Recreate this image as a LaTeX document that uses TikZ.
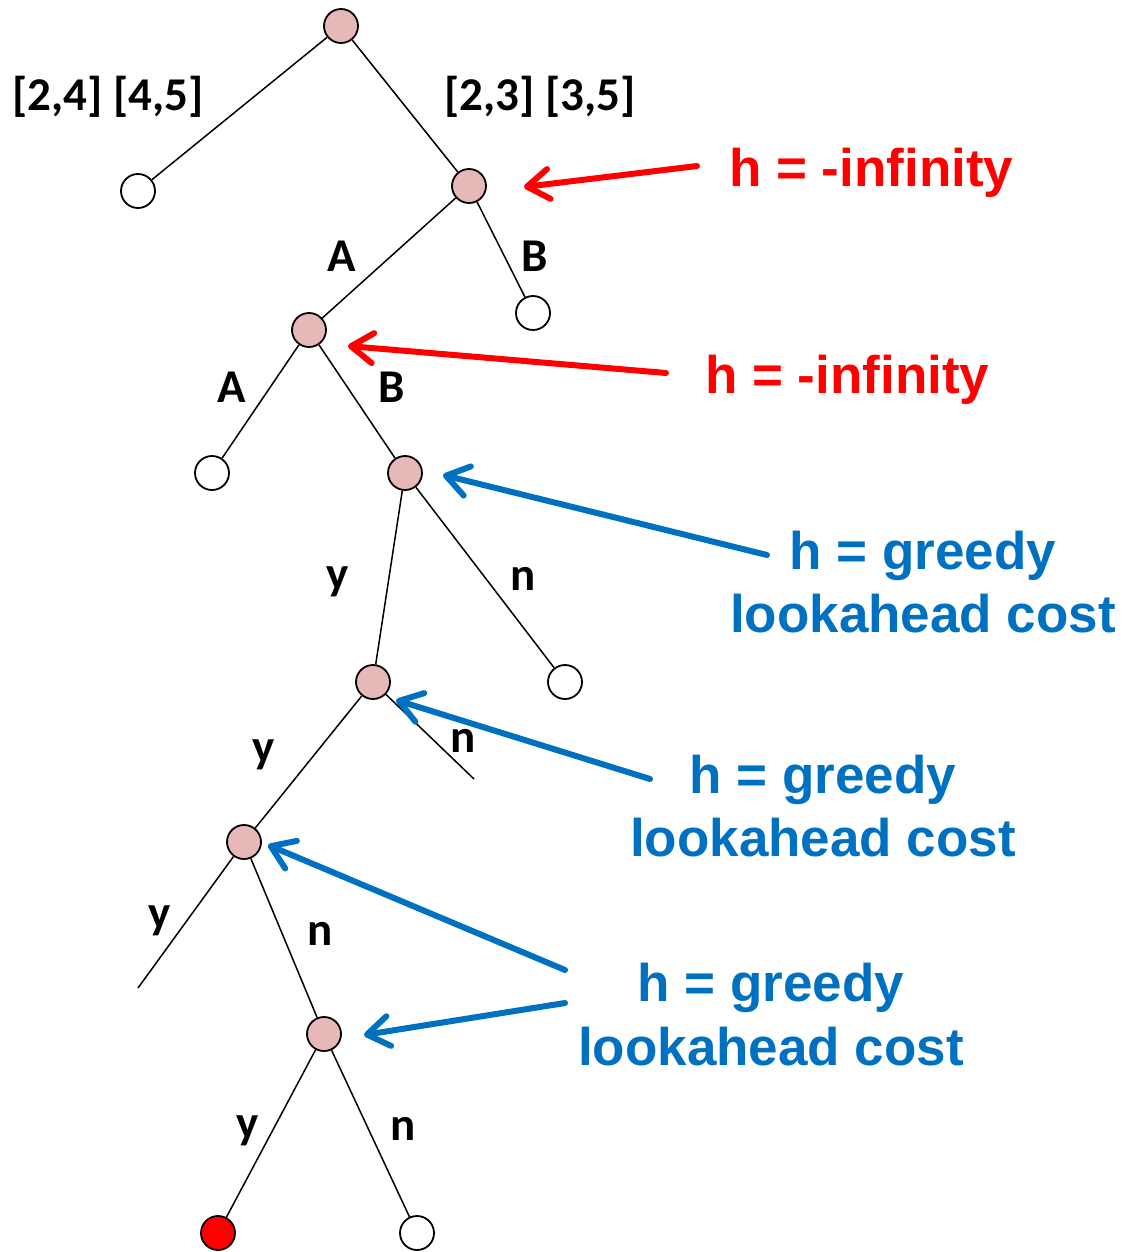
\documentclass[tikz,border=0pt]{standalone}
\usepackage{fontspec}
\setmainfont{Carlito}
\newfontfamily\arialb{Liberation Sans}[BoldFont={Liberation Sans Bold}]
\usetikzlibrary{arrows.meta}
\definecolor{nodepink}{HTML}{E6B9B8}
\definecolor{hred}{HTML}{FF0000}
\definecolor{hblue}{HTML}{0070C0}
\tikzset{
  tnode/.style={circle, draw=black, line width=1.8pt, minimum size=34pt, inner sep=0pt},
  pinknode/.style={tnode, fill=nodepink},
  whitenode/.style={tnode, fill=white},
  rednode/.style={tnode, fill=hred},
  edge/.style={line width=1.5pt, black},
  elabel/.style={font=\fontsize{47}{56}\selectfont\bfseries, anchor=base, inner sep=0pt},
  htext/.style={font=\arialb\fontsize{53}{63}\selectfont\bfseries, inner sep=0pt},
  harrow/.style={line width=6pt, line cap=round, -{Straight Barb[length=22pt,width=30pt,line cap=round,line join=round]}},
}
\begin{document}
\begin{tikzpicture}[x=1pt,y=-1pt]
\useasboundingbox (0,0) rectangle (1122,1252);
% tree nodes
\node[pinknode] (r) at (341,26) {};
\node[whitenode] (a1) at (138,191) {};
\node[pinknode] (a2) at (469,186) {};
\node[pinknode] (b1) at (309,330) {};
\node[whitenode] (b2) at (533,313) {};
\node[whitenode] (c1) at (212,473) {};
\node[pinknode] (c2) at (405,473) {};
\node[pinknode] (d1) at (373,682) {};
\node[whitenode] (d2) at (565,682) {};
\coordinate (dn) at (474,779);
\node[pinknode] (e1) at (244,842) {};
\coordinate (ey) at (138,988);
\node[pinknode] (f1) at (324,1034) {};
\node[rednode] (g1) at (218,1233) {};
\node[whitenode] (g2) at (417,1233) {};
% edges
\draw[edge] (r) -- (a1);
\draw[edge] (r) -- (a2);
\draw[edge] (a2) -- (b1);
\draw[edge] (a2) -- (b2);
\draw[edge] (b1) -- (c1);
\draw[edge] (b1) -- (c2);
\draw[edge] (c2) -- (d1);
\draw[edge] (c2) -- (d2);
\draw[edge] (d1) -- (e1);
\draw[edge] (d1) -- (dn);
\draw[edge] (e1) -- (ey);
\draw[edge] (e1) -- (f1);
\draw[edge] (f1) -- (g1);
\draw[edge] (f1) -- (g2);
% edge labels
\node[elabel] (l1) at (108,111) {[2,4] [4,5]};
\node[elabel] (l2) at (540,111) {[2,3] [3,5]};
\node[elabel] (l3) at (342,271) {A};
\node[elabel] (l4) at (535,271) {B};
\node[elabel] (l5) at (232,402) {A};
\node[elabel] (l6) at (392,402) {B};
\node[elabel] (l7) at (338,589) {y};
\node[elabel] (l8) at (523,590) {n};
\node[elabel] (l9) at (264,762) {y};
\node[elabel] (l10) at (463,752) {n};
\node[elabel] (l11) at (160,928) {y};
\node[elabel] (l12) at (320,945) {n};
\node[elabel] (l13) at (248,1138) {y};
\node[elabel] (l14) at (403,1140) {n};
% red annotations
\node[htext, text=hred, anchor=base west] (h1) at (729,186) {h = -infinity};
\node[htext, text=hred, anchor=base west] (h2) at (705,393) {h = -infinity};
\coordinate (t1) at (697,166); \coordinate (p1) at (524,187);
\coordinate (t2) at (666,373); \coordinate (p2) at (348,346);
\draw[harrow, hred] (t1) -- (p1);
\draw[harrow, hred] (t2) -- (p2);
% blue annotations
\node[htext, text=hblue, anchor=base] (g1a) at (923,569) {h = greedy};
\node[htext, text=hblue, anchor=base] (g1b) at (923,632) {lookahead cost};
\node[htext, text=hblue, anchor=base] (g2a) at (823,793) {h = greedy};
\node[htext, text=hblue, anchor=base] (g2b) at (823,856) {lookahead cost};
\node[htext, text=hblue, anchor=base] (g3a) at (771,1001) {h = greedy};
\node[htext, text=hblue, anchor=base] (g3b) at (771,1065) {lookahead cost};
\coordinate (t3) at (767,555); \coordinate (p3) at (443,475);
\coordinate (t4) at (650,779); \coordinate (p4) at (396,700);
\coordinate (t5) at (565,970); \coordinate (p5) at (268,845);
\coordinate (t6) at (565,1003); \coordinate (p6) at (364,1035);
\draw[harrow, hblue] (t3) -- (p3);
\draw[harrow, hblue] (t4) -- (p4);
\draw[harrow, hblue] (t5) -- (p5);
\draw[harrow, hblue] (t6) -- (p6);
\end{tikzpicture}
\end{document}
